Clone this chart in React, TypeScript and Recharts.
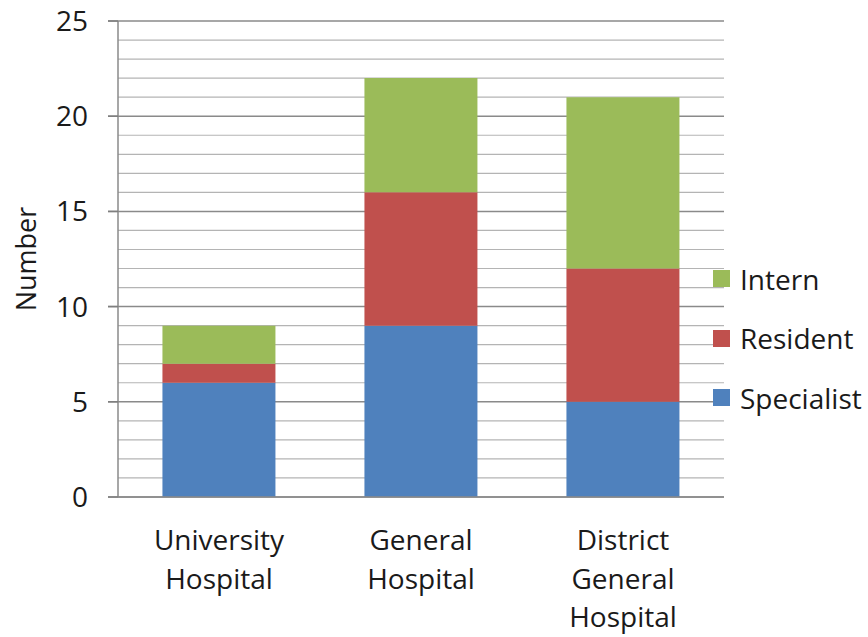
import { BarChart, Bar, XAxis, YAxis, CartesianGrid } from 'recharts'

const categories = ['University\nHospital', 'General\nHospital', 'District\nGeneral\nHospital']
const specialist = [6, 9, 5]
const resident = [1, 7, 7]
const intern = [2, 6, 9]
const yTicks = [0, 1, 2, 3, 4, 5, 6, 7, 8, 9, 10, 11, 12, 13, 14, 15, 16, 17, 18, 19, 20, 21, 22, 23, 24, 25]

const series = [
  { key: 'Specialist', color: '#4F81BD' },
  { key: 'Resident', color: '#C0504D' },
  { key: 'Intern', color: '#9BBB59' },
]

const data = categories.map((name, i) => ({
  name,
  Specialist: specialist[i],
  Resident: resident[i],
  Intern: intern[i],
}))

const FONT = '"Open Sans", sans-serif'
const TEXT = '#1a1a1a'

function YTick({ x, y, payload }: any) {
  const major = payload.value % 5 === 0
  return (
    <g>
      {major && <line x1={x} x2={x + 10} y1={y} y2={y} stroke="#7f7f7f" strokeWidth={1.5} />}
      {major && (
        <text x={x - 20} y={y} dy={10} textAnchor="end" fontSize={28} fontFamily={FONT} fill={TEXT}>
          {payload.value}
        </text>
      )}
    </g>
  )
}

function XTick({ x, y, payload }: any) {
  const lines = String(payload.value).split('\n')
  return (
    <text x={x} y={y} textAnchor="middle" fontSize={28} fontFamily={FONT} fill={TEXT}>
      {lines.map((l, i) => (
        <tspan key={i} x={x} y={y + 53 + i * 38.5}>
          {l}
        </tspan>
      ))}
    </text>
  )
}

function GridLine(props: any) {
  const major = props.index % 5 === 0
  return (
    <line
      x1={major ? props.x1 - 10 : props.x1}
      x2={props.x2}
      y1={props.y1}
      y2={props.y2}
      stroke={major ? '#8a8a8a' : '#b4b4b4'}
      strokeWidth={major ? 1.5 : 1.2}
    />
  )
}

function LegendBox() {
  const items = [...series].reverse()
  return (
    <div
      style={{
        position: 'absolute',
        left: 713,
        top: 249,
        fontFamily: FONT,
        fontSize: 28,
        color: TEXT,
      }}
    >
      {items.map((s) => (
        <div key={s.key} style={{ display: 'flex', alignItems: 'center', height: 59.5 }}>
          <span style={{ width: 17, height: 17, background: s.color, display: 'inline-block', marginRight: 10 }} />
          <span>{s.key}</span>
        </div>
      ))}
    </div>
  )
}

function YLabel({ viewBox }: any) {
  const cy = viewBox.y + viewBox.height / 2
  return (
    <text
      x={36}
      y={cy}
      transform={`rotate(-90, 36, ${cy})`}
      textAnchor="middle"
      fontSize={27}
      fontFamily={FONT}
      fill={TEXT}
    >
      Number
    </text>
  )
}

export default function App() {
  return (
    <div style={{ position: 'absolute', left: 0, top: 0, width: 868, height: 637, background: '#fff' }}>
      <BarChart
        width={868}
        height={637}
        data={data}
        margin={{ top: 21, right: 144, bottom: 0, left: 0 }}
        barCategoryGap="22%"
      >
        <CartesianGrid vertical={false} horizontal={GridLine} />
        <XAxis
          dataKey="name"
          height={140}
          tickLine={false}
          tickSize={0}
          tickMargin={0}
          axisLine={{ stroke: '#8a8a8a', strokeWidth: 1.5 }}
          tick={<XTick />}
          interval={0}
        />
        <YAxis
          width={118}
          domain={[0, 25]}
          ticks={yTicks}
          interval={0}
          tickLine={false}
          tickSize={10}
          tickMargin={0}
          axisLine={{ stroke: '#8a8a8a', strokeWidth: 1.5 }}
          tick={<YTick />}
          label={<YLabel />}
        />
        {series.map((s) => (
          <Bar key={s.key} dataKey={s.key} stackId="a" fill={s.color} isAnimationActive={false} />
        ))}
      </BarChart>
      <LegendBox />
    </div>
  )
}
